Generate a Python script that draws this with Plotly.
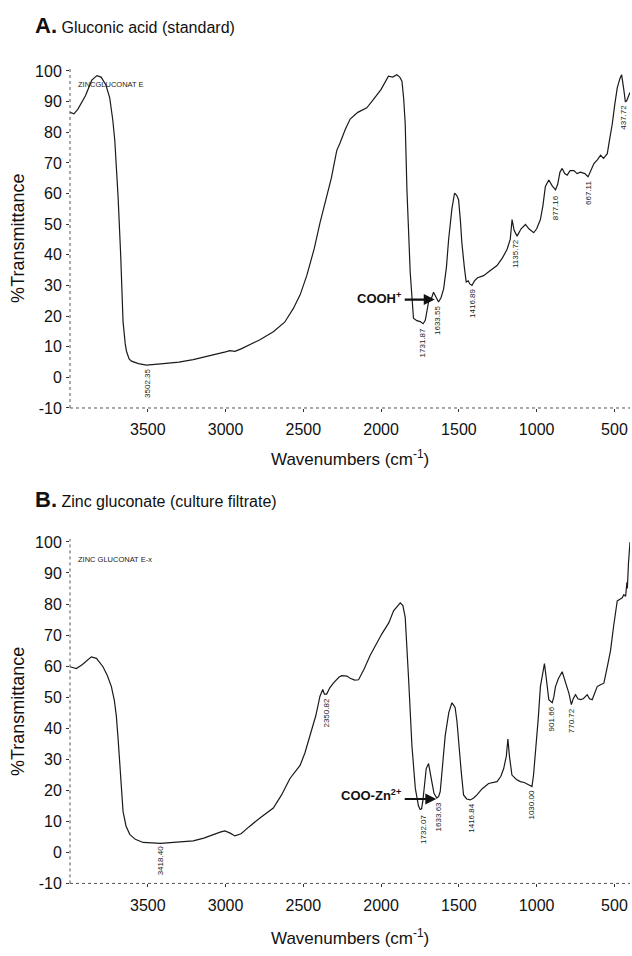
import plotly.graph_objects as go

# ---------------- data ----------------
wn_a = [4000, 3975, 3950, 3900, 3860, 3827, 3800, 3770, 3745, 3725, 3712, 3691, 3674, 3659, 3645, 3637,
        3620, 3605, 3560, 3508, 3400, 3300, 3208, 3100, 3000, 2972, 2940, 2900, 2850, 2779, 2693, 2620,
        2564, 2520, 2478, 2430, 2393, 2349, 2320, 2285, 2264, 2230, 2199, 2150, 2092, 2049, 2000, 1953,
        1925, 1899, 1880, 1866, 1855, 1845, 1834, 1813, 1792, 1770, 1749, 1730, 1716, 1695, 1675, 1663,
        1650, 1640, 1631, 1615, 1598, 1580, 1566, 1545, 1528, 1515, 1502, 1490, 1481, 1465, 1453, 1440,
        1430, 1416, 1400, 1380, 1341, 1300, 1255, 1220, 1190, 1170, 1158, 1145, 1126, 1100, 1072, 1050,
        1019, 1000, 976, 960, 944, 922, 900, 879, 865, 850, 836, 820, 804, 785, 761, 740, 718, 690, 670,
        665, 650, 632, 610, 589, 570, 546, 530, 514, 498, 482, 465, 454, 440, 430, 422, 410, 400]
tr_a = [86.5, 86.0, 87.5, 92, 97, 98.5, 98, 95.5, 91.3, 84, 77.3, 59, 39.7, 18.2, 11, 8.5,
        6, 5.3, 4.5, 4.0, 4.5, 5.0, 5.8, 7.0, 8.3, 8.7, 8.5, 9.3, 10.5, 12.3, 14.9, 18,
        22.5, 27, 33.2, 42, 50.4, 59, 65, 74.1, 76.5, 81, 84.3, 86.5, 88, 90.7, 94, 98.3,
        98, 98.8, 98, 96.7, 91, 82.7, 61.2, 34.3, 19.3, 18.5, 18.2, 17.5, 18.6, 24.6, 26, 27.8,
        26.5, 25, 24.6, 26, 28.9, 36, 45, 55, 60.1, 59.5, 58, 51, 44, 36, 31.1, 31.5,
        30.5, 30, 31.5, 32.5, 33.2, 34.8, 36.5, 39, 41.8, 45, 51.5, 48, 46.1, 48.5, 49.9, 48.5,
        47.2, 48.5, 51.5, 56, 62.3, 64.4, 62.5, 61.2, 63, 67, 68.2, 66.5, 66, 67.5, 67.5, 66.5, 67, 66.5, 65.5,
        66, 68, 69.8, 71, 72.5, 71.5, 73, 78, 82.7, 89, 94.5, 97.5, 98.8, 94, 90, 90.2, 92, 93]

wn_b = [4000, 3959, 3920, 3863, 3830, 3788, 3760, 3734, 3715, 3702, 3690, 3680, 3670, 3659, 3640, 3616,
        3580, 3530, 3418, 3300, 3208, 3140, 3079, 3030, 3004, 2970, 2940, 2900, 2850, 2779, 2693, 2640,
        2586, 2521, 2490, 2457, 2420, 2393, 2375, 2365, 2350, 2330, 2307, 2270, 2253, 2220, 2199, 2170,
        2145, 2110, 2070, 1995, 1950, 1920, 1890, 1877, 1860, 1845, 1823, 1802, 1780, 1760, 1749, 1740,
        1732, 1720, 1710, 1695, 1684, 1674, 1660, 1642, 1630, 1620, 1605, 1588, 1565, 1545, 1535, 1524,
        1512, 1502, 1485, 1470, 1450, 1427, 1405, 1384, 1350, 1309, 1280, 1255, 1230, 1212, 1195, 1185,
        1175, 1159, 1130, 1105, 1080, 1055, 1030, 1020, 1009, 990, 976, 960, 950, 938, 922, 900, 890, 879,
        860, 836, 815, 793, 777, 765, 750, 735, 718, 700, 675, 660, 643, 625, 611, 590, 568, 545, 525,
        505, 482, 465, 450, 440, 428, 420, 417, 410, 404, 400]
tr_b = [59.8, 59.2, 60.5, 63, 62.5, 59.8, 57, 53.4, 49, 43.9, 36, 29.1, 20, 13.2, 8.5, 5.8,
        4.2, 3.2, 2.9, 3.3, 3.7, 4.6, 5.8, 6.6, 6.9, 6.2, 5.3, 6.0, 8.2, 11.1, 14.3, 18.5,
        23.8, 28, 32, 37.6, 44, 50.3, 52.5, 51, 51, 53, 54.5, 56.5, 56.9, 56.8, 56.1, 55.5,
        55.6, 59, 63.5, 70.4, 74, 77.8, 79.8, 80.4, 79.5, 75.7, 55.6, 34.4, 20.6, 15, 13.8, 14,
        16.4, 22, 27, 28.6, 26, 22.8, 19, 17.5, 18, 19.6, 28, 37.6, 45, 48.2, 47.5, 46.6,
        42, 35.5, 26, 18.5, 17.2, 16.9, 17.5, 18.5, 20.5, 22.2, 22.5, 22.8, 24.5, 27, 31, 36.5,
        31, 24.9, 23.5, 22.8, 22.5, 21.8, 21.2, 25, 31.2, 43, 53.4, 58, 60.8, 56, 49.2, 48.2, 50, 53.4,
        56, 58.2, 55, 51.3, 47.6, 49.5, 50.8, 49.5, 49.2, 49.5, 50.8, 49.5, 49.2, 51.5, 53.4, 54, 54.5, 60, 65.1,
        73, 81, 81.5, 82, 83, 82.5, 87, 85, 93, 99, 100]

peaks_a = ["3502.35", "1731.87", "1633.55", "1416.89", "1135.72", "877.16", "667.11", "437.72"]
peak_wn_a = [3502, 1728, 1634, 1417, 1136, 877, 667, 438]
peak_top_a = [3.4, 16.6, 23.8, 29.6, 45.8, 60.2, 64.9, 89.5]

peaks_b = ["3418.40", "2350.82", "1732.07", "1633.63", "1416.84", "1030.00", "901.66", "770.72"]
peak_wn_b = [3418, 2351, 1732, 1634, 1417, 1030, 902, 771]
peak_top_b = [2.6, 50.2, 12.8, 16.6, 16.4, 20.4, 47.8, 47.0]

x_ticks = [3500, 3000, 2500, 2000, 1500, 1000, 500]
y_ticks = [-10, 0, 10, 20, 30, 40, 50, 60, 70, 80, 90, 100]
y_tick_text = ["-10", "0", "10", "20", "30", "40", "50", "60", "70", "80", "90", "100"]

FONT = "Liberation Sans, Arial, sans-serif"
W, H = 632, 956
dom_a = [0.5722, 0.9332]
dom_b = [0.0675, 0.4333]

fig = go.Figure()
fig.add_trace(go.Scatter(x=wn_a, y=tr_a, mode="lines", line=dict(color="#1a1a1a", width=1.2),
                         xaxis="x", yaxis="y", showlegend=False))
fig.add_trace(go.Scatter(x=wn_b, y=tr_b, mode="lines", line=dict(color="#1a1a1a", width=1.2),
                         xaxis="x2", yaxis="y2", showlegend=False))

xcommon = dict(range=[4000, 400], tickvals=x_ticks, ticks="outside", ticklen=3, tickcolor="#333",
               showline=False, showgrid=False, zeroline=False, ticklabelstandoff=4,
               tickfont=dict(family=FONT, size=16, color="#111"))
ycommon = dict(range=[-10, 101], tickvals=y_ticks, ticktext=y_tick_text, ticks="outside", ticklen=3,
               tickcolor="#333", showline=False, showgrid=False, zeroline=False, ticklabelstandoff=1,
               tickfont=dict(family=FONT, size=16, color="#111"))

fig.update_layout(
    width=W, height=H, margin=dict(l=70, r=2, t=0, b=0),
    plot_bgcolor="white", paper_bgcolor="white",
    xaxis=dict(domain=[0, 1], anchor="y", **xcommon),
    yaxis=dict(domain=dom_a, anchor="x", **ycommon),
    xaxis2=dict(domain=[0, 1], anchor="y2", **xcommon),
    yaxis2=dict(domain=dom_b, anchor="x2", **ycommon),
)

shapes = []
for xr, yr in (("x", "y"), ("x2", "y2")):
    shapes.append(dict(type="line", xref=xr + " domain", yref=yr + " domain", x0=0, x1=0, y0=0, y1=1,
                       line=dict(color="#555", width=1, dash="dot")))
    shapes.append(dict(type="line", xref=xr + " domain", yref=yr + " domain", x0=0, x1=1, y0=0, y1=0,
                       line=dict(color="#555", width=1, dash="dot")))
fig.update_layout(shapes=shapes)

ann = []
# panel titles
ann.append(dict(xref="paper", yref="paper", x=-0.066, y=0.978, xanchor="left", yanchor="middle",
                showarrow=False, font=dict(family=FONT, size=16, color="#111"),
                text="<b><span style='font-size:22px'>A.</span></b> Gluconic acid (standard)"))
ann.append(dict(xref="paper", yref="paper", x=-0.066, y=1 - 502 / H, xanchor="left", yanchor="middle",
                showarrow=False, font=dict(family=FONT, size=16, color="#111"),
                text="<b><span style='font-size:22px'>B.</span></b> Zinc gluconate (culture filtrate)"))
# axis titles
for dom, ypx in ((dom_a, 460), (dom_b, 946)):
    ann.append(dict(xref="paper", yref="paper", x=0.5, y=1 - ypx / H, xanchor="center", yanchor="middle",
                    showarrow=False, font=dict(family=FONT, size=17, color="#111"),
                    text="Wavenumbers (cm<sup>-1</sup>)"))
    ann.append(dict(xref="paper", yref="paper", x=-0.093, y=(dom[0] + dom[1]) / 2, xanchor="center",
                    yanchor="middle", textangle=-90, showarrow=False,
                    font=dict(family=FONT, size=18, color="#111"), text="%Transmittance"))
# sample names
ann.append(dict(xref="x", yref="y", x=3960, y=95.5, xanchor="left", yanchor="middle", showarrow=False,
                font=dict(family=FONT, size=7.5, color="#222"), text="ZINCGLUCONAT E"))
ann.append(dict(xref="x2", yref="y2", x=3960, y=94.3, xanchor="left", yanchor="middle", showarrow=False,
                font=dict(family=FONT, size=7.5, color="#222"), text="ZINC GLUCONAT E-x"))
# peak labels
for lab, w, t in zip(peaks_a, peak_wn_a, peak_top_a):
    ann.append(dict(xref="x", yref="y", x=w, y=t, xanchor="center", yanchor="top", textangle=-90,
                    showarrow=False, font=dict(family=FONT, size=8, color="#222"), text=lab))
for lab, w, t in zip(peaks_b, peak_wn_b, peak_top_b):
    ann.append(dict(xref="x2", yref="y2", x=w, y=t, xanchor="center", yanchor="top", textangle=-90,
                    showarrow=False, font=dict(family=FONT, size=8, color="#222"), text=lab))
# arrows
ann.append(dict(xref="x", yref="y", x=1655, y=25.4, ax=1858, ay=25.4, axref="x", ayref="y", text="",
                showarrow=True, arrowhead=2, arrowsize=1, arrowwidth=2.2, arrowcolor="#111"))
ann.append(dict(xref="x", yref="y", x=1862, y=25.8, xanchor="right", yanchor="middle", showarrow=False,
                font=dict(family=FONT, size=13, color="#111"), text="<b>COOH<sup>+</sup></b>"))
ann.append(dict(xref="x2", yref="y2", x=1645, y=17.2, ax=1858, ay=17.2, axref="x2", ayref="y2", text="",
                showarrow=True, arrowhead=2, arrowsize=1, arrowwidth=2.2, arrowcolor="#111"))
ann.append(dict(xref="x2", yref="y2", x=1862, y=18.6, xanchor="right", yanchor="middle", showarrow=False,
                font=dict(family=FONT, size=13, color="#111"), text="<b>COO-Zn<sup>2+</sup></b>"))
fig.update_layout(annotations=ann)

fig.write_html("out.html")
